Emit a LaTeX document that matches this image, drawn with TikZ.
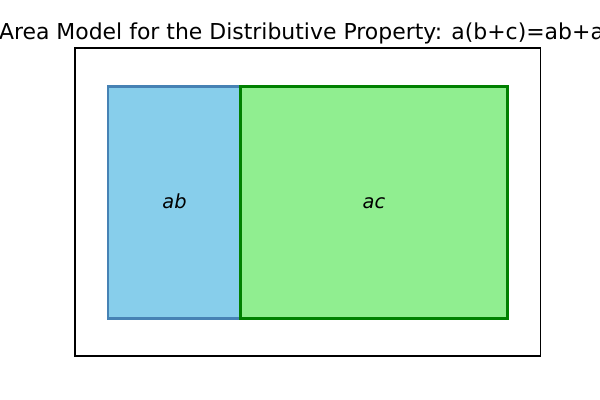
\documentclass[tikz,border=0pt]{standalone}
\usepackage{fontspec}
\setmainfont{DejaVu Sans}
\usetikzlibrary{positioning}
\definecolor{skyblue}{HTML}{87CEEB}
\definecolor{steelblue}{HTML}{4682B4}
\definecolor{lightgreen}{HTML}{90EE90}
\definecolor{darkgreen}{HTML}{008000}
\begin{document}
\begin{tikzpicture}[x=0.025cm, y=-0.025cm,
  area/.style={draw, rectangle, line width=2.1pt, minimum height=5.775cm, inner sep=0pt, text height=0.9em, text depth=0.1em, font=\fontsize{13.8}{16}\selectfont\itshape}]
  \useasboundingbox (0,0) rectangle (600,400);
  % Axes frame
  \node[draw, rectangle, line width=0.8pt, minimum width=11.625cm, minimum height=7.7cm, inner sep=0pt] (frame) at (307.5,202) {};
  % Title
  \node[anchor=base, inner sep=0pt, font=\fontsize{15.6}{18}\selectfont] (title) at (307.5,39.5) {Area Model for the Distributive Property: a(b+c)=ab+ac};
  % Area boxes
  \node[area, fill=skyblue, draw=steelblue, minimum width=3.325cm] (ab) at (174.5,202.5) {ab};
  \node[area, fill=lightgreen, draw=darkgreen, minimum width=6.65cm] (ac) at (374,202.5) {ac};
\end{tikzpicture}
\end{document}
